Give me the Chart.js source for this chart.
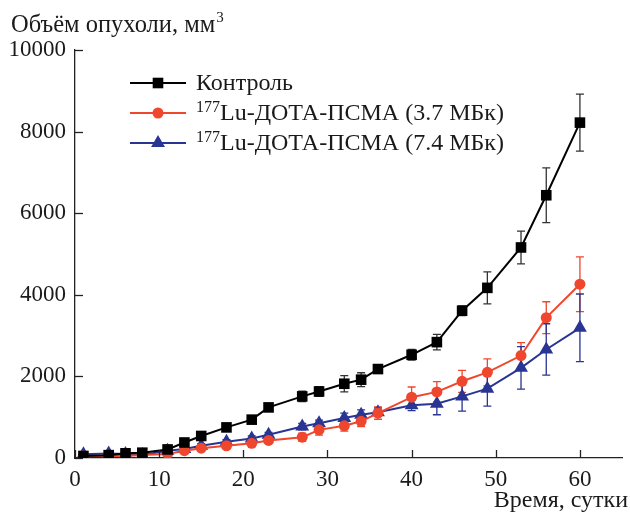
<!DOCTYPE html>
<html>
<head>
<meta charset="utf-8">
<script src="https://cdn.jsdelivr.net/npm/chart.js@4.4.1/dist/chart.umd.min.js"></script>
<style>
  html, body { margin: 0; padding: 0; background: #fff; }
  #wrap { position: relative; width: 630px; height: 514px; }
</style>
</head>
<body>
<div id="wrap"><canvas id="tumorChart" width="630" height="514"></canvas></div>
<script>
// --- data ---
const days = [1, 4, 6, 8, 11, 13, 15, 18, 21, 23, 27, 29, 32, 34, 36, 40, 43, 46, 49, 53, 56, 60];

const control = [50, 70, 115, 130, 210, 380, 540, 750, 940, 1240, 1510, 1630, 1820, 1920, 2180, 2530, 2840, 3610, 4170, 5160, 6440, 8220];
const controlErr = [30, 30, 30, 40, 40, 50, 60, 80, 70, 60, 130, 120, 200, 170, 70, 130, 190, 120, 390, 400, 670, 700];

const lowDose = [50, 50, 50, 75, 100, 180, 240, 300, 360, 430, 510, 690, 790, 900, 1100, 1490, 1620, 1880, 2100, 2510, 3440, 4260];
const lowDoseErr = [30, 30, 30, 30, 40, 40, 40, 50, 60, 60, 100, 130, 130, 130, 150, 250, 250, 270, 330, 320, 390, 670];

const highDose = [90, 110, 100, 75, 180, 220, 300, 400, 480, 570, 770, 850, 980, 1060, 1120, 1290, 1330, 1510, 1700, 2210, 2660, 3190];
const highDoseErr = [40, 40, 40, 40, 40, 40, 50, 50, 60, 60, 80, 80, 120, 120, 100, 130, 270, 360, 430, 520, 630, 830];

const seriesNames = ["Контроль", "Lu-ДОТА-ПСМА (3.7 МБк)", "Lu-ДОТА-ПСМА (7.4 МБк)"];
const xTicks = [0, 10, 20, 30, 40, 50, 60];
const yTicks = [0, 2000, 4000, 6000, 8000, 10000];

const FONT = "'Liberation Serif', 'Times New Roman', serif";
const colors = ["#000000", "#ef472d", "#283592"];
const styles = ["rect", "circle", "triangle"];
const radii = [7.5, 5.5, 8];

function toPoints(vals) {
  return days.map((d, i) => ({ x: d, y: vals[i] }));
}
const errs = [controlErr, lowDoseErr, highDoseErr];

// draw a marker by hand (legend)
function marker(ctx, style, x, y, r, color) {
  ctx.save();
  ctx.fillStyle = color;
  ctx.beginPath();
  if (style === "rect") {
    const s = r * Math.SQRT1_2;
    ctx.rect(x - s, y - s, 2 * s, 2 * s);
  } else if (style === "circle") {
    ctx.arc(x, y, r, 0, Math.PI * 2);
  } else {
    ctx.moveTo(x, y - r);
    ctx.lineTo(x + r * 0.866, y + r * 0.5);
    ctx.lineTo(x - r * 0.866, y + r * 0.5);
    ctx.closePath();
  }
  ctx.fill();
  ctx.restore();
}

const errorBars = {
  id: "errorBars",
  beforeDatasetsDraw(chart) {
    const ctx = chart.ctx;
    const xs = chart.scales.x, ys = chart.scales.y;
    chart.data.datasets.forEach((ds, i) => {
      ctx.save();
      ctx.strokeStyle = i === 0 ? "#333" : colors[i];
      ctx.lineWidth = 1.3;
      ds.data.forEach((p, j) => {
        const x = xs.getPixelForValue(p.x);
        const t = ys.getPixelForValue(p.y + errs[i][j]);
        const b = ys.getPixelForValue(Math.max(0, p.y - errs[i][j]));
        ctx.beginPath();
        ctx.moveTo(x, t); ctx.lineTo(x, b);
        ctx.moveTo(x - 4, t); ctx.lineTo(x + 4, t);
        ctx.moveTo(x - 4, b); ctx.lineTo(x + 4, b);
        ctx.stroke();
      });
      ctx.restore();
    });
  }
};

const decorations = {
  id: "decorations",
  afterDraw(chart) {
    const ctx = chart.ctx;
    const xs = chart.scales.x, ys = chart.scales.y;
    const area = chart.chartArea;
    ctx.save();
    ctx.strokeStyle = "#222";
    ctx.lineWidth = 1.3;
    // inward tick marks
    yTicks.forEach(v => {
      const y = Math.round(ys.getPixelForValue(v)) + 0.5;
      ctx.beginPath(); ctx.moveTo(area.left, y); ctx.lineTo(area.left + 8, y); ctx.stroke();
    });
    xTicks.forEach(v => {
      const x = Math.round(xs.getPixelForValue(v)) + 0.5;
      ctx.beginPath(); ctx.moveTo(x, area.bottom); ctx.lineTo(x, area.bottom - 8); ctx.stroke();
    });

    // axis titles
    ctx.fillStyle = "#1a1a1a";
    ctx.textBaseline = "alphabetic";
    ctx.font = "24.5px " + FONT;
    ctx.textAlign = "left";
    const t = "Объём опухоли, мм";
    ctx.fillText(t, 11, 32);
    const tw = ctx.measureText(t).width;
    ctx.font = "15px " + FONT;
    ctx.fillText("3", 11 + tw + 1, 22);

    ctx.font = "24px " + FONT;
    ctx.textAlign = "right";
    ctx.fillText("Время, сутки", 628, 507);

    // legend
    const rows = [83, 113, 143];
    rows.forEach((y, i) => {
      ctx.strokeStyle = colors[i];
      ctx.lineWidth = 2.2;
      ctx.beginPath(); ctx.moveTo(130, y); ctx.lineTo(186, y); ctx.stroke();
      marker(ctx, styles[i], 158, y, radii[i], colors[i]);
      ctx.fillStyle = "#1a1a1a";
      ctx.textAlign = "left";
      let x = 196;
      if (i > 0) {
        ctx.font = "16px " + FONT;
        ctx.fillText("177", x, y - 1);
        x += ctx.measureText("177").width;
      }
      ctx.font = "24px " + FONT;
      ctx.fillText(seriesNames[i], x, y + 7);
    });
    ctx.restore();
  }
};

new Chart(document.getElementById("tumorChart"), {
  type: "line",
  data: {
    datasets: [control, lowDose, highDose].map((vals, i) => ({
      label: seriesNames[i],
      data: toPoints(vals),
      borderColor: colors[i],
      backgroundColor: colors[i],
      borderWidth: 2,
      pointStyle: styles[i],
      pointRadius: radii[i],
      pointBorderWidth: 0,
      tension: 0,
      fill: false
    }))
  },
  options: {
    responsive: false,
    animation: false,
    layout: { padding: { left: 0, top: 50, right: 1, bottom: 0 } },
    plugins: { legend: { display: false }, tooltip: { enabled: false } },
    scales: {
      x: {
        type: "linear",
        min: 0,
        max: 65,
        afterFit(scale) { scale.height = 56; },
        afterBuildTicks(scale) { scale.ticks = xTicks.map(v => ({ value: v })); },
        grid: { display: false, drawTicks: false },
        border: { display: true, color: "#222", width: 1.3 },
        ticks: { padding: 8, color: "#1a1a1a", font: { family: FONT, size: 23 } }
      },
      y: {
        min: 0,
        max: 10000,
        afterFit(scale) { scale.width = 75; },
        afterBuildTicks(scale) { scale.ticks = yTicks.map(v => ({ value: v })); },
        grid: { display: false, drawTicks: false },
        border: { display: true, color: "#222", width: 1.3 },
        ticks: {
          padding: 9, color: "#1a1a1a", font: { family: FONT, size: 23 },
          callback: v => String(v)
        }
      }
    }
  },
  plugins: [errorBars, decorations]
});
</script>
</body>
</html>
